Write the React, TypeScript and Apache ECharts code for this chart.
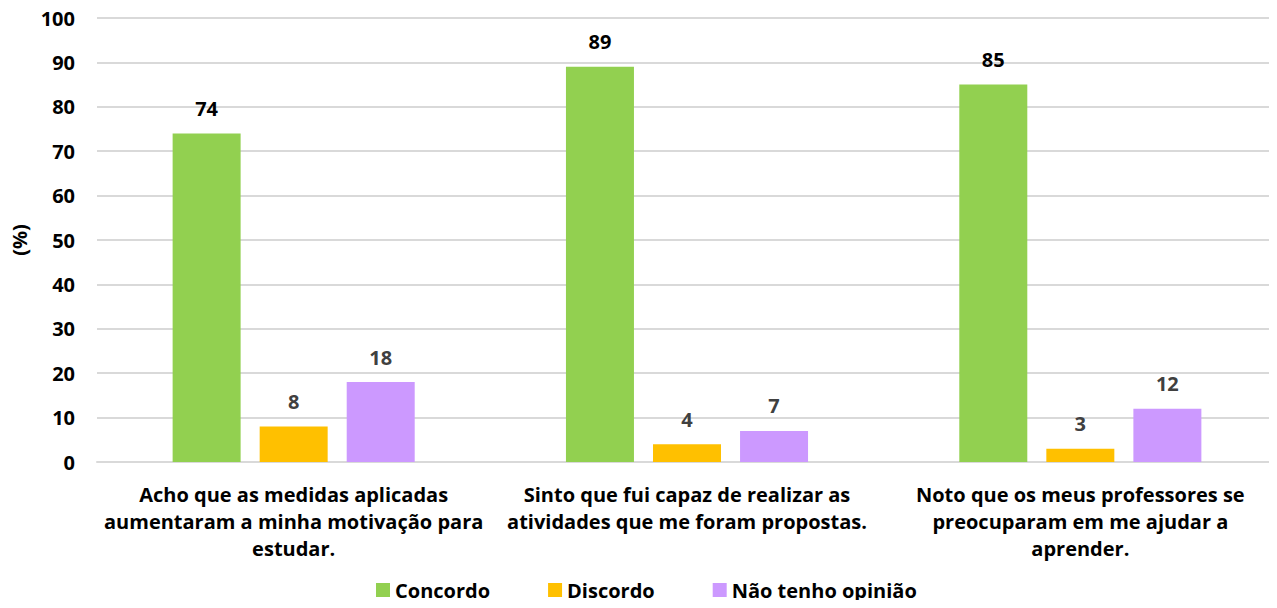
import React, { useEffect, useRef } from "react";
import * as echarts from "echarts";

const categories = [
  "Acho que as medidas aplicadas\naumentaram a minha motivação para\nestudar.",
  "Sinto que fui capaz de realizar as\natividades que me foram propostas.",
  "Noto que os meus professores se\npreocuparam em me ajudar a\naprender.",
];
const concordo = [74, 89, 85];
const discordo = [8, 4, 3];
const semOpiniao = [18, 7, 12];
const seriesNames = ["Concordo", "Discordo", "Não tenho opinião"];
const yTicks = { min: 0, max: 100, interval: 10 };

const FONT = "'Open Sans', Lato, sans-serif";

export default function App() {
  const ref = useRef<HTMLDivElement>(null);
  useEffect(() => {
    if (!ref.current) return;
    const chart = echarts.init(ref.current, undefined, { renderer: "svg" });
    const mk = (name: string, data: number[], color: string, labelColor: string) => ({
      name,
      type: "bar",
      data,
      barWidth: 68,
      barGap: "28%",
      itemStyle: { color },
      label: {
        show: true,
        position: "top",
        distance: 15,
        color: labelColor,
        fontFamily: FONT,
        fontWeight: "bold",
        fontSize: 20,
      },
    });
    chart.setOption({
      animation: false,
      textStyle: { fontFamily: FONT },
      grid: {
        left: 97,
        right: 0,
        top: 18,
        bottom: 146,
        containLabel: false,
        outerBoundsMode: "none",
      },
      legend: {
        bottom: 3,
        left: 371,
        icon: "rect",
        itemWidth: 14,
        itemHeight: 14,
        itemGap: 58,
        textStyle: { fontFamily: FONT, fontWeight: "bold", fontSize: 20, color: "#000" },
        data: seriesNames,
      },
      xAxis: {
        type: "category",
        data: categories,
        axisLine: { lineStyle: { color: "#d9d9d9", width: 2 } },
        axisTick: { show: false },
        axisLabel: {
          interval: 0,
          margin: 19,
          color: "#000",
          fontFamily: FONT,
          fontWeight: "bold",
          fontSize: 20,
          lineHeight: 27,
          align: "center",
        },
      },
      yAxis: {
        type: "value",
        ...yTicks,
        name: "(%)",
        nameLocation: "middle",
        nameRotate: 90,
        nameGap: 66,
        nameTextStyle: { fontFamily: FONT, fontWeight: "bold", fontSize: 20, color: "#000" },
        axisLine: { show: false },
        axisTick: { show: false },
        splitLine: { lineStyle: { color: "#d9d9d9", width: 2 } },
        axisLabel: { margin: 22, color: "#000", fontFamily: FONT, fontWeight: "bold", fontSize: 20 },
      },
      series: [
        mk(seriesNames[0], concordo, "#92D050", "#000"),
        mk(seriesNames[1], discordo, "#FFC000", "#404040"),
        mk(seriesNames[2], semOpiniao, "#CC99FF", "#404040"),
      ],
    });
    return () => chart.dispose();
  }, []);
  return <div ref={ref} style={{ width: 1277, height: 608, margin: -8 }} />;
}
